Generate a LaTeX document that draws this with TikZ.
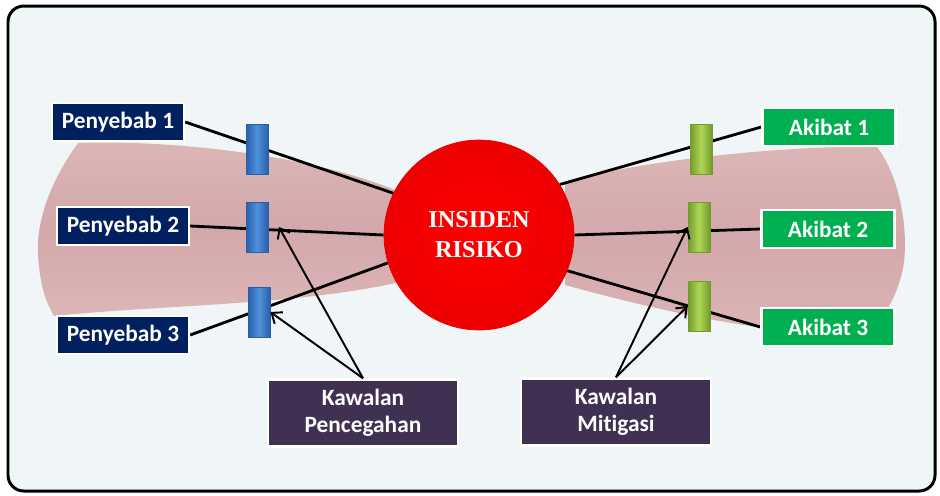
\documentclass[tikz,border=0pt]{standalone}
\usepackage{fontspec}
\setmainfont[Ligatures=NoCommon]{Carlito}
\newfontfamily\headfont{Liberation Serif}
\usetikzlibrary{shadows,arrows.meta}
\pgfdeclarelayer{bg}
\pgfdeclarelayer{lines}
\pgfsetlayers{bg,lines,main}

\definecolor{framebg}{RGB}{240,245,248}
\definecolor{navy}{RGB}{0,32,96}
\definecolor{hijau}{RGB}{0,176,80}
\definecolor{ungu}{RGB}{64,49,82}
\definecolor{pinkA}{RGB}{220,182,182}
\definecolor{pinkB}{RGB}{211,168,170}
\definecolor{blueL}{RGB}{80,145,220}
\definecolor{blueD}{RGB}{40,95,170}
\definecolor{greenL}{RGB}{175,215,85}
\definecolor{greenD}{RGB}{115,155,45}

\tikzset{
  box/.style={draw=white, line width=1.4pt, text=white, inner sep=2pt,
    font=\fontsize{13.3}{15.5}\selectfont\bfseries, minimum height=0.76cm,
    drop shadow={shadow xshift=0.8pt, shadow yshift=-0.8pt, opacity=0.35}},
  sebab/.style={box, fill=navy, minimum width=2.64cm},
  akibat/.style={box, fill=hijau, minimum width=2.66cm},
  kawalan/.style={box, fill=ungu, minimum width=3.8cm, minimum height=1.34cm, align=center},
  bar/.style={thin, minimum width=0.44cm, minimum height=1cm, inner sep=0pt},
  bluebar/.style={bar, draw=blueD, left color=blueD, right color=blueD, middle color=blueL},
  greenbar/.style={bar, draw=greenD, left color=greenD, right color=greenD, middle color=greenL},
  link/.style={line width=1.6pt},
  pointer/.style={-{Straight Barb[length=5pt, width=8pt]}, line width=1.1pt},
}

\begin{document}
\begin{tikzpicture}[x=0.02cm, y=-0.02cm]
    \useasboundingbox (0,0) rectangle (940,495);

    % Bingkai dan latar
    \begin{pgfonlayer}{bg}
    \draw[line width=1.7pt, rounded corners=9pt, fill=framebg] (8,6) rectangle (935,491);
    % Bentuk tali leher kupu-kupu
    \shade[top color=pinkA, bottom color=pinkA, middle color=pinkB]
        (400,192) .. controls (300,150) and (150,140) .. (78,143)
        .. controls (55,175) and (36,215) .. (38,255)
        .. controls (40,285) and (45,300) .. (54,316)
        .. controls (160,305) and (300,305) .. (400,282) -- cycle;
    \shade[top color=pinkA, bottom color=pinkA, middle color=pinkB]
        (565,182) .. controls (650,158) and (800,145) .. (877,147)
        .. controls (895,170) and (905,210) .. (905,245)
        .. controls (905,280) and (892,305) .. (872,333)
        .. controls (800,338) and (700,322) .. (565,285) -- cycle;
    \end{pgfonlayer}

    % Insiden
    \node[circle, minimum size=3.8cm, draw=red!92!black, inner color=red, outer color=red!93!black,
        text=white, align=center, font=\headfont\bfseries\fontsize{13.8}{17}\selectfont] (ins) at (479,235) {INSIDEN\\RISIKO};

    % Penyebab
    \node[sebab] (p1) at (118,122) {Penyebab 1};
    \node[sebab] (p2) at (123,226) {Penyebab 2};
    \node[sebab] (p3) at (123,335) {Penyebab 3};

    % Akibat
    \node[akibat] (a1) at (829,127) {Akibat 1};
    \node[akibat] (a2) at (828,229) {Akibat 2};
    \node[akibat] (a3) at (828,327) {Akibat 3};

    % Kawalan
    \node[kawalan] (kp) at (363,413) {Kawalan\\Pencegahan};
    \node[kawalan] (km) at (616,412) {Kawalan\\Mitigasi};

    % Garisan
    \begin{pgfonlayer}{lines}
    \draw[link] (p1.east) -- (ins.154);
    \draw[link] (p2.east) -- (ins.west);
    \draw[link] (p3.east) -- (ins.197);
    \draw[link] (a1.west) -- (ins.32);
    \draw[link] (a2.west) -- (ins.east);
    \draw[link] (a3.west) -- (ins.-22);
    \end{pgfonlayer}

    % Halangan
    \node[bluebar] (b1) at (257,149) {};
    \node[bluebar] (b2) at (257,227) {};
    \node[bluebar] (b3) at (259,312) {};
    \node[greenbar] (g1) at (701,149) {};
    \node[greenbar] (g2) at (699,227) {};
    \node[greenbar] (g3) at (699,306) {};

    % Anak panah
    \draw[pointer] (kp.north) -- ([xshift=6pt]b2.east);
    \draw[pointer] (kp.north) -- (b3.east);
    \draw[pointer] (km.north) -- (g2.west);
    \draw[pointer] (km.north) -- (g3.west);
\end{tikzpicture}
\end{document}
